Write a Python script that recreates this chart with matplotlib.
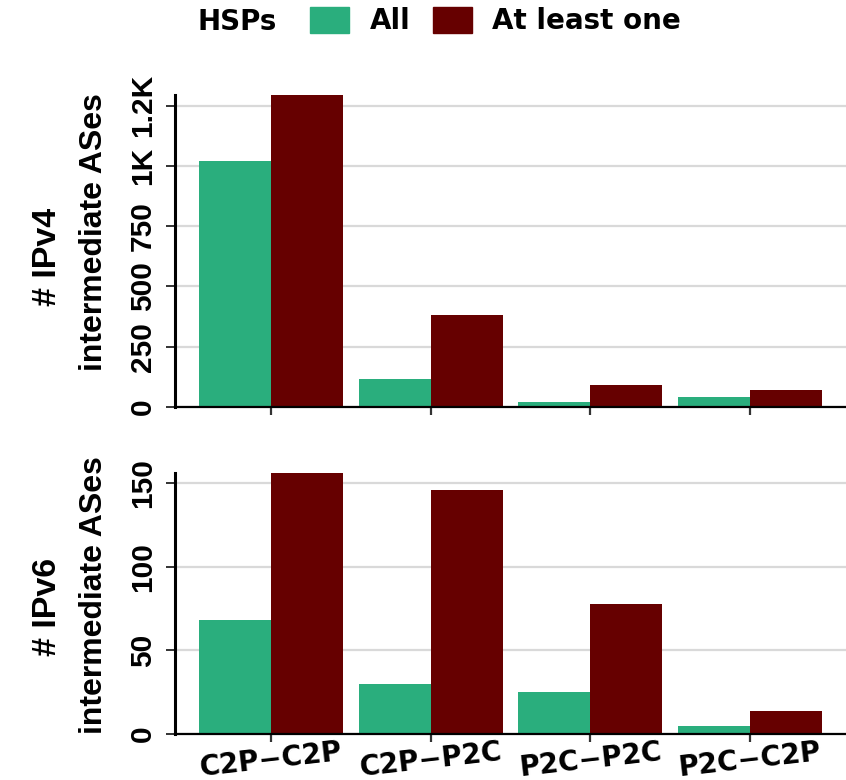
import matplotlib
matplotlib.use('Agg')
import matplotlib.pyplot as plt
from matplotlib import font_manager
from matplotlib.patches import Patch
import numpy as np

categories = ['C2P\u2212C2P', 'C2P\u2212P2C', 'P2C\u2212P2C', 'P2C\u2212C2P']
series = ['All', 'At least one']
ipv4_all = [1022, 115, 19, 40]
ipv4_one = [1294, 380, 90, 69]
ipv6_all = [68, 30, 25, 5]
ipv6_one = [156, 146, 78, 14]
ipv4_ticks = [0, 250, 500, 750, 1000, 1250]
ipv4_ticklabels = ['0', '250', '500', '750', '1K', '1.2K']
ipv6_ticks = [0, 50, 100, 150]
ipv6_ticklabels = ['0', '50', '100', '150']

colors = ['#2AAE7D', '#660000']
W, H = 846, 780

# pick a narrow-ish bold family for the rotated text
vfont = 'DejaVu Sans'
for fam in ['Liberation Sans Narrow', 'Liberation Sans', 'Roboto', 'Noto Sans']:
    try:
        path = font_manager.findfont(font_manager.FontProperties(family=fam, weight='bold'),
                                     fallback_to_default=False)
    except ValueError:
        continue
    if 'bold' in path.lower() or 'black' in path.lower():
        vfont = fam
        break
vtick, vlab, vpad = 21.5, 23, 6.5
if vfont == 'Liberation Sans Narrow':
    vtick, vlab, vpad = 23, 27, 6
hfont = 'DejaVu Sans'

fig = plt.figure(figsize=(W / 100, H / 100), dpi=100)
ax1 = fig.add_axes([175 / W, 1 - 407 / H, 671 / W, 312 / H])
ax2 = fig.add_axes([175 / W, 1 - 734 / H, 671 / W, 261 / H])


def px(x, y):
    return x / W, 1 - y / H


def draw_panel(ax, all_vals, one_vals, ticks, ticklabels, line1, line2, y1, y2):
    x = np.arange(1, len(categories) + 1)
    ax.bar(x - 0.225, all_vals, 0.45, color=colors[0], zorder=2)
    ax.bar(x + 0.225, one_vals, 0.45, color=colors[1], zorder=2)
    ax.set_xlim(0.4, len(categories) + 0.6)
    ax.set_ylim(0, max(max(all_vals), max(one_vals)))
    ax.set_xticks(x)
    ax.set_yticks(ticks)
    ax.set_yticklabels(ticklabels, rotation=90, va='center', family=vfont,
                       fontsize=vtick, fontweight='bold')
    ax.yaxis.grid(True, color='#D9D9D9', lw=1.6)
    ax.set_axisbelow(True)
    for s in ['top', 'right']:
        ax.spines[s].set_visible(False)
    ax.spines['left'].set_linewidth(2.2)
    ax.spines['bottom'].set_linewidth(1.6)
    ax.tick_params(axis='y', length=6.5, width=1.4, color='#333333', pad=vpad)
    ax.tick_params(axis='x', length=5.5, width=1.6, color='#333333')
    fig.text(*px(56, y1), line1, rotation=90, rotation_mode='anchor', ha='center',
             va='baseline', family=vfont, fontsize=vlab + 1.5, fontweight='bold')
    fig.text(*px(102, y2), line2, rotation=90, rotation_mode='anchor', ha='center',
             va='baseline', family=vfont, fontsize=vlab, fontweight='bold')


draw_panel(ax1, ipv4_all, ipv4_one, ipv4_ticks, ipv4_ticklabels,
           '# IPv4', 'intermediate ASes', 257, 232)
draw_panel(ax2, ipv6_all, ipv6_one, ipv6_ticks, ipv6_ticklabels,
           '# IPv6', 'intermediate ASes', 607, 595)

ax1.set_xticklabels([])
ax2.set_xticklabels(categories, rotation=6.5, ha='center', va='top', family=hfont,
                    fontsize=20, fontweight='bold')
ax2.tick_params(axis='x', pad=-3)

# legend
fig.text(*px(197, 30), 'HSPs', ha='left', va='baseline', family=hfont,
         fontsize=20, fontweight='bold')
handles = [Patch(color=c) for c in colors]
fig.legend(handles, series, loc='center left', bbox_to_anchor=px(310, 21), ncol=2,
           frameon=False, borderpad=0, borderaxespad=0, handlelength=1.4,
           handleheight=1.08, handletextpad=0.75, columnspacing=0.8,
           prop={'family': hfont, 'size': 20, 'weight': 'bold'})

fig.savefig('out.png', dpi=100)
